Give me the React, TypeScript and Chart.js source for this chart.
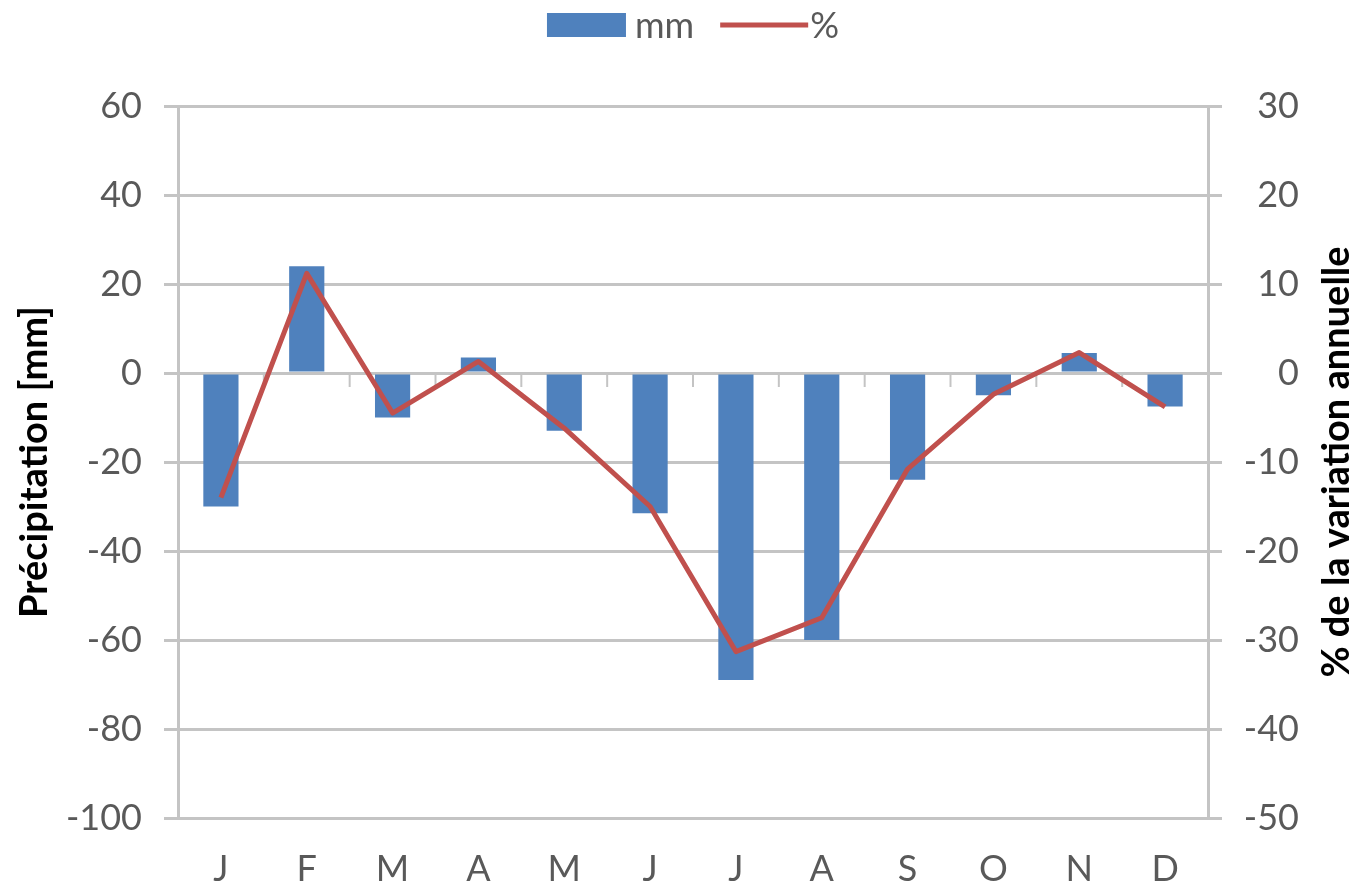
import { useEffect, useRef } from "react";
import { Chart, registerables } from "chart.js";

Chart.register(...registerables);

// Monthly precipitation anomaly (mm) and annual-variation share (%)
const months = ["J", "F", "M", "A", "M", "J", "J", "A", "S", "O", "N", "D"];
const precipitationMm = [-30, 24, -10, 3.5, -13, -31.5, -69, -60, -24, -5, 4.5, -7.5];
const variationPct = [-14, 11.2, -4.5, 1.3, -6.2, -15, -31.3, -27.5, -10.8, -2.4, 2.3, -3.8];

const mmAxis = { min: -100, max: 60, step: 20 };
const pctAxis = { min: -50, max: 30, step: 10 };

const leftTitle = "Précipitation [mm]";
const rightTitle = "% de la variation annuelle";

const BAR_COLOR = "#4F81BD";
const LINE_COLOR = "#C0504D";
const GRID_COLOR = "#c4c4c4";
const TEXT_COLOR = "#595959";
const FONT_FAMILY = "Lato, 'Open Sans', sans-serif";

// Draws the legend row, the rotated axis titles and the small category
// tick marks that sit on the zero line.
const decorations = {
  id: "decorations",
  beforeDatasetsDraw(chart: any) {
    const { ctx, chartArea, scales } = chart;
    const x = scales.x;
    const y0 = scales.y.getPixelForValue(0);
    ctx.save();
    ctx.strokeStyle = GRID_COLOR;
    ctx.lineWidth = 2;
    const n = chart.data.labels.length;
    for (let i = 1; i < n; i++) {
      const px = (x.getPixelForValue(i - 1) + x.getPixelForValue(i)) / 2;
      if (px <= chartArea.left || px >= chartArea.right) continue;
      ctx.beginPath();
      ctx.moveTo(px, y0);
      ctx.lineTo(px, y0 + 14);
      ctx.stroke();
    }
    ctx.restore();
  },
  afterDraw(chart: any) {
    const { ctx, chartArea } = chart;
    const midY = (chartArea.top + chartArea.bottom) / 2;

    // axis titles, both reading bottom to top
    ctx.save();
    ctx.fillStyle = "#000";
    ctx.font = `bold 38px ${FONT_FAMILY}`;
    ctx.textAlign = "center";
    ctx.textBaseline = "middle";
    ctx.translate(35, midY);
    ctx.rotate(-Math.PI / 2);
    ctx.fillText(leftTitle, 0, 0);
    ctx.restore();

    ctx.save();
    ctx.fillStyle = "#000";
    ctx.font = `bold 38px ${FONT_FAMILY}`;
    ctx.textAlign = "center";
    ctx.textBaseline = "middle";
    ctx.translate(chart.width - 22, midY);
    ctx.rotate(-Math.PI / 2);
    ctx.fillText(rightTitle, 0, 0);
    ctx.restore();

    // legend
    const ds = chart.data.datasets;
    ctx.save();
    ctx.font = `36px ${FONT_FAMILY}`;
    ctx.textBaseline = "middle";
    ctx.textAlign = "left";
    const barSym = 79;
    const lineSym = 88;
    const barGap = 9;
    const lineGap = 2;
    const itemGap = 26;
    const w0 = barSym + barGap + ctx.measureText(ds[0].label).width;
    const w1 = lineSym + lineGap + ctx.measureText(ds[1].label).width;
    const total = w0 + itemGap + w1;
    let lx = (chartArea.left + chartArea.right) / 2 - total / 2;
    const ly = 25;

    ctx.fillStyle = ds[0].backgroundColor;
    ctx.fillRect(lx, ly - 12, barSym, 24);
    ctx.fillStyle = TEXT_COLOR;
    ctx.fillText(ds[0].label, lx + barSym + barGap, ly + 1);
    lx += w0 + itemGap;

    ctx.strokeStyle = ds[1].borderColor;
    ctx.lineWidth = 5;
    ctx.beginPath();
    ctx.moveTo(lx, ly);
    ctx.lineTo(lx + lineSym, ly);
    ctx.stroke();
    ctx.fillStyle = TEXT_COLOR;
    ctx.fillText(ds[1].label, lx + lineSym + lineGap, ly + 1);
    ctx.restore();
  },
};

export default function App() {
  const canvasRef = useRef<HTMLCanvasElement | null>(null);

  useEffect(() => {
    const canvas = canvasRef.current;
    if (!canvas) return;
    const tickFont = { family: FONT_FAMILY, size: 36 };

    const chart = new Chart(canvas, {
      type: "bar",
      data: {
        labels: months,
        datasets: [
          {
            type: "bar",
            label: "mm",
            data: precipitationMm,
            backgroundColor: BAR_COLOR,
            borderWidth: 0,
            barPercentage: 0.41,
            categoryPercentage: 1,
            yAxisID: "y",
            order: 2,
          },
          {
            type: "line",
            label: "%",
            data: variationPct,
            borderColor: LINE_COLOR,
            backgroundColor: LINE_COLOR,
            borderWidth: 5,
            borderJoinStyle: "round",
            pointRadius: 0,
            tension: 0,
            fill: false,
            yAxisID: "y1",
            order: 1,
          },
        ] as any,
      },
      options: {
        responsive: false,
        animation: false,
        devicePixelRatio: 1,
        layout: { padding: { top: 106, left: 0, right: 60, bottom: 0 } },
        plugins: {
          legend: { display: false },
          tooltip: { enabled: false },
        },
        scales: {
          x: {
            grid: { display: false, drawTicks: false },
            border: { display: false },
            ticks: { font: tickFont, color: TEXT_COLOR, padding: 30 },
            afterFit(scale: any) {
              scale.height = 68;
            },
          },
          y: {
            position: "left",
            min: mmAxis.min,
            max: mmAxis.max,
            ticks: { stepSize: mmAxis.step, font: tickFont, color: TEXT_COLOR, padding: 22 },
            grid: { color: GRID_COLOR, lineWidth: 3, tickLength: 14 },
            border: { color: GRID_COLOR, width: 3 },
            afterFit(scale: any) {
              scale.width = 178;
            },
          },
          y1: {
            position: "right",
            min: pctAxis.min,
            max: pctAxis.max,
            ticks: {
              stepSize: pctAxis.step,
              font: tickFont,
              color: TEXT_COLOR,
              padding: 23,
              crossAlign: "far",
            },
            grid: { drawOnChartArea: false, color: GRID_COLOR, lineWidth: 3, tickLength: 14 },
            border: { color: GRID_COLOR, width: 3 },
            afterFit(scale: any) {
              scale.width = 91;
            },
          },
        },
      } as any,
      plugins: [decorations],
    });

    return () => chart.destroy();
  }, []);

  return (
    <div style={{ position: "absolute", left: 0, top: 0, width: 1359, height: 886, background: "#fff" }}>
      <canvas ref={canvasRef} width={1359} height={886} style={{ display: "block" }} />
    </div>
  );
}
